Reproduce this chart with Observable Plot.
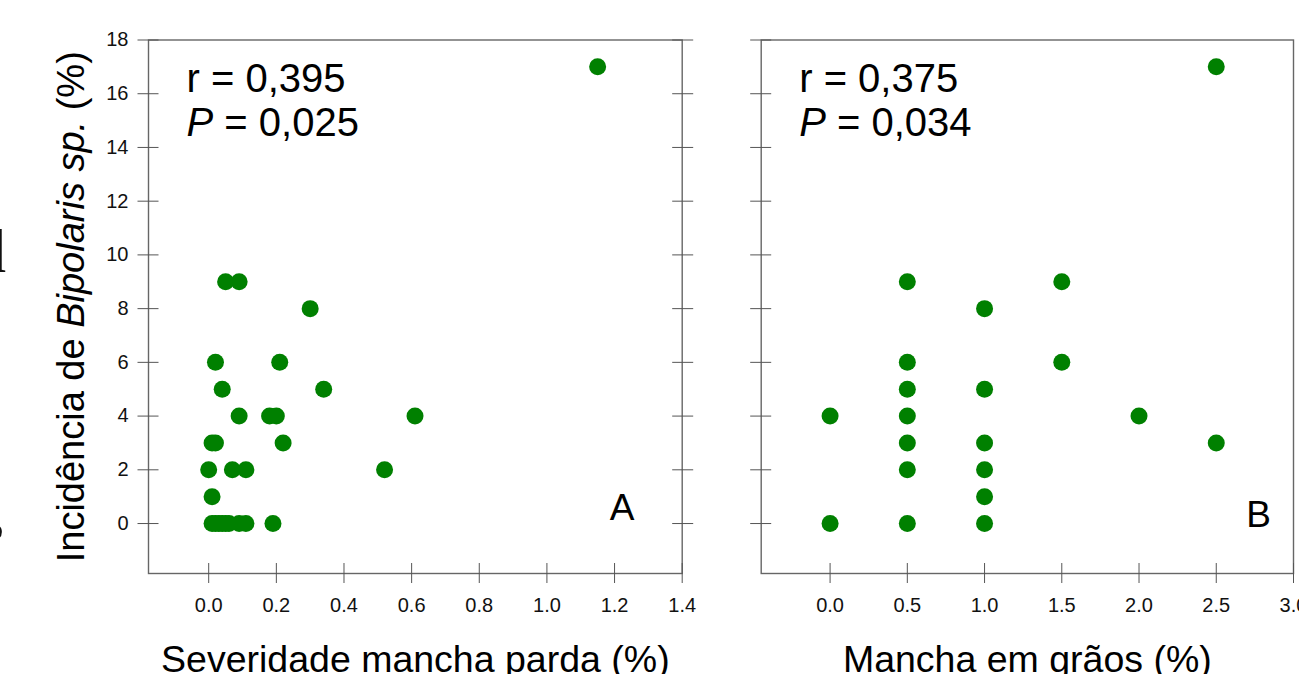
<!DOCTYPE html>
<html>
<head>
<meta charset="utf-8">
<script src="https://cdn.jsdelivr.net/npm/d3@7"></script>
<script src="https://cdn.jsdelivr.net/npm/@observablehq/plot@0.6"></script>
<style>
html, body { margin: 0; padding: 0; background: #fff; overflow: hidden; }
#wrap { position: relative; width: 1299px; height: 674px; font-family: "Liberation Sans", Arial, sans-serif; }
.panel { position: absolute; top: 0; }
#frag { position: absolute; left: 0; top: 0; }
</style>
</head>
<body>
<div id="wrap">
  <div class="panel" id="pa" style="left:0px"></div>
  <div class="panel" id="pb" style="left:700px"></div>
  <svg id="frag" width="40" height="674"><text x="-25" y="272" font-family="Liberation Serif" font-size="62" fill="#111">d</text><text x="-20" y="540" font-family="Liberation Serif" font-size="62" fill="#111">s</text></svg>
</div>
<script>
// ---- data ----
const yTicks = [0, 2, 4, 6, 8, 10, 12, 14, 16, 18];
const xTicksA = [0, 0.2, 0.4, 0.6, 0.8, 1.0, 1.2, 1.4];
const xTicksB = [0, 0.5, 1.0, 1.5, 2.0, 2.5, 3.0];

// Panel A: severidade mancha parda (%) vs incidência (%)
const severidade = [0.05, 0.09, 0.30, 0.02, 0.21, 0.04, 0.34, 0.09, 0.18, 0.20, 0.61,
  0.01, 0.02, 0.22, 0.00, 0.07, 0.11, 0.52, 0.01,
  0.01, 0.02, 0.03, 0.04, 0.05, 0.06, 0.09, 0.11, 0.19, 1.15];
const incidenciaA = [9, 9, 8, 6, 6, 5, 5, 4, 4, 4, 4,
  3, 3, 3, 2, 2, 2, 2, 1,
  0, 0, 0, 0, 0, 0, 0, 0, 0, 17];

// Panel B: mancha em grãos (%) vs incidência (%)
const manchaGraos = [0.0, 0.0, 0.5, 0.5, 0.5, 0.5, 0.5, 0.5, 0.5,
  1.0, 1.0, 1.0, 1.0, 1.0, 1.0, 1.5, 1.5, 2.0, 2.5, 2.5];
const incidenciaB = [4, 0, 9, 6, 5, 4, 3, 2, 0,
  8, 5, 3, 2, 1, 0, 9, 6, 4, 17, 3];

const statsA = ["r = 0,395", "P = 0,025"];
const statsB = ["r = 0,375", "P = 0,034"];
const yLabel = "Incidência de Bipolaris sp. (%)";
const xLabelA = "Severidade mancha parda (%)";
const xLabelB = "Mancha em grãos (%)";

const yDomain = [-1.86, 18];
const xDomainA = [-0.178, 1.4];
const xDomainB = [-0.446, 3.0];

function panel({xs, ys, xDomain, xTicks, width, marginLeft, marginRight, stats, letter, letterDx, letterDy, xLabel, withYLabels, rightTicks}) {
  const data = xs.map((x, i) => ({x, y: ys[i]}));
  const marks = [
    Plot.frame({stroke: "#666", strokeWidth: 1.4}),
    Plot.axisX(xTicks, {anchor: "bottom", tickSize: 20, dy: -10, tickPadding: 14, tickFormat: d => d.toFixed(1),
      fontSize: 20, stroke: "#555", fill: "#111", label: null}),
    Plot.axisY(yTicks, {anchor: "left", tickSize: 21, dx: 10.5, tickPadding: 9.5,
      tickFormat: withYLabels ? (d => String(d)) : (() => ""), fontSize: 20, stroke: "#555", fill: "#111", label: null}),
  ];
  if (rightTicks) {
    marks.push(Plot.axisY(yTicks, {anchor: "right", tickSize: 21, dx: -10.5, tickFormat: () => "", stroke: "#555", label: null}));
  }
  marks.push(
    Plot.dot(data, {x: "x", y: "y", r: 8.5, fill: "#008000", stroke: null}),
    Plot.text([stats[0]], {text: d => d, frameAnchor: "top-left", dx: 38, dy: 24, lineAnchor: "top", textAnchor: "start", fontSize: 40, fill: "#000"}),
    Plot.text([stats[1]], {text: d => d, frameAnchor: "top-left", dx: 38, dy: 68, lineAnchor: "top", textAnchor: "start", fontSize: 40, fill: "#000"}),
    Plot.text([letter], {text: d => d, frameAnchor: "bottom-right", dx: letterDx, dy: letterDy, lineAnchor: "top", textAnchor: "middle", fontSize: 37, fill: "#000"}),
    Plot.text([xLabel], {text: d => d, frameAnchor: "bottom", dy: 71.5, lineAnchor: "top", textAnchor: "middle", fontSize: 37.5, fill: "#000"})
  );
  if (withYLabels) {
    marks.push(Plot.text([yLabel], {text: d => d, frameAnchor: "left", dx: -77, rotate: -90, lineAnchor: "middle", textAnchor: "middle", fontSize: 38, fill: "#000"}));
  }
  const svg = Plot.plot({
    width, height: 674,
    marginLeft, marginRight, marginTop: 39.5, marginBottom: 101,
    style: {fontFamily: "'Liberation Sans', Arial, sans-serif", fontSize: "20px", background: "#fff", overflow: "visible"},
    x: {domain: xDomain, label: null},
    y: {domain: yDomain, label: null},
    marks
  });
  // tick label size
  d3.select(svg).selectAll('g[aria-label$="tick label"]').attr("font-size", 20).selectAll("text").attr("font-size", 20);
  // italics
  d3.select(svg).selectAll("text").each(function() {
    const t = this.textContent;
    if (t === stats[1]) {
      d3.select(this).html('<tspan font-style="italic">P</tspan>' + t.slice(1).replace(/ /g, "&#160;"));
    } else if (t === yLabel) {
      d3.select(this).html('Incidência de <tspan font-style="italic">Bipolaris sp.</tspan> (%)');
    }
  });
  return svg;
}

document.getElementById("pa").appendChild(panel({
  xs: severidade, ys: incidenciaA, xDomain: xDomainA, xTicks: xTicksA,
  width: 700, marginLeft: 148, marginRight: 18.3,
  stats: statsA, letter: "A", letterDx: -60, letterDy: -80,
  xLabel: xLabelA, withYLabels: true, rightTicks: true
}));
document.getElementById("pb").appendChild(panel({
  xs: manchaGraos, ys: incidenciaB, xDomain: xDomainB, xTicks: xTicksB,
  width: 599, marginLeft: 60.7, marginRight: 6,
  stats: statsB, letter: "B", letterDx: -35, letterDy: -73,
  xLabel: xLabelB, withYLabels: false, rightTicks: false
}));
</script>
</body>
</html>
